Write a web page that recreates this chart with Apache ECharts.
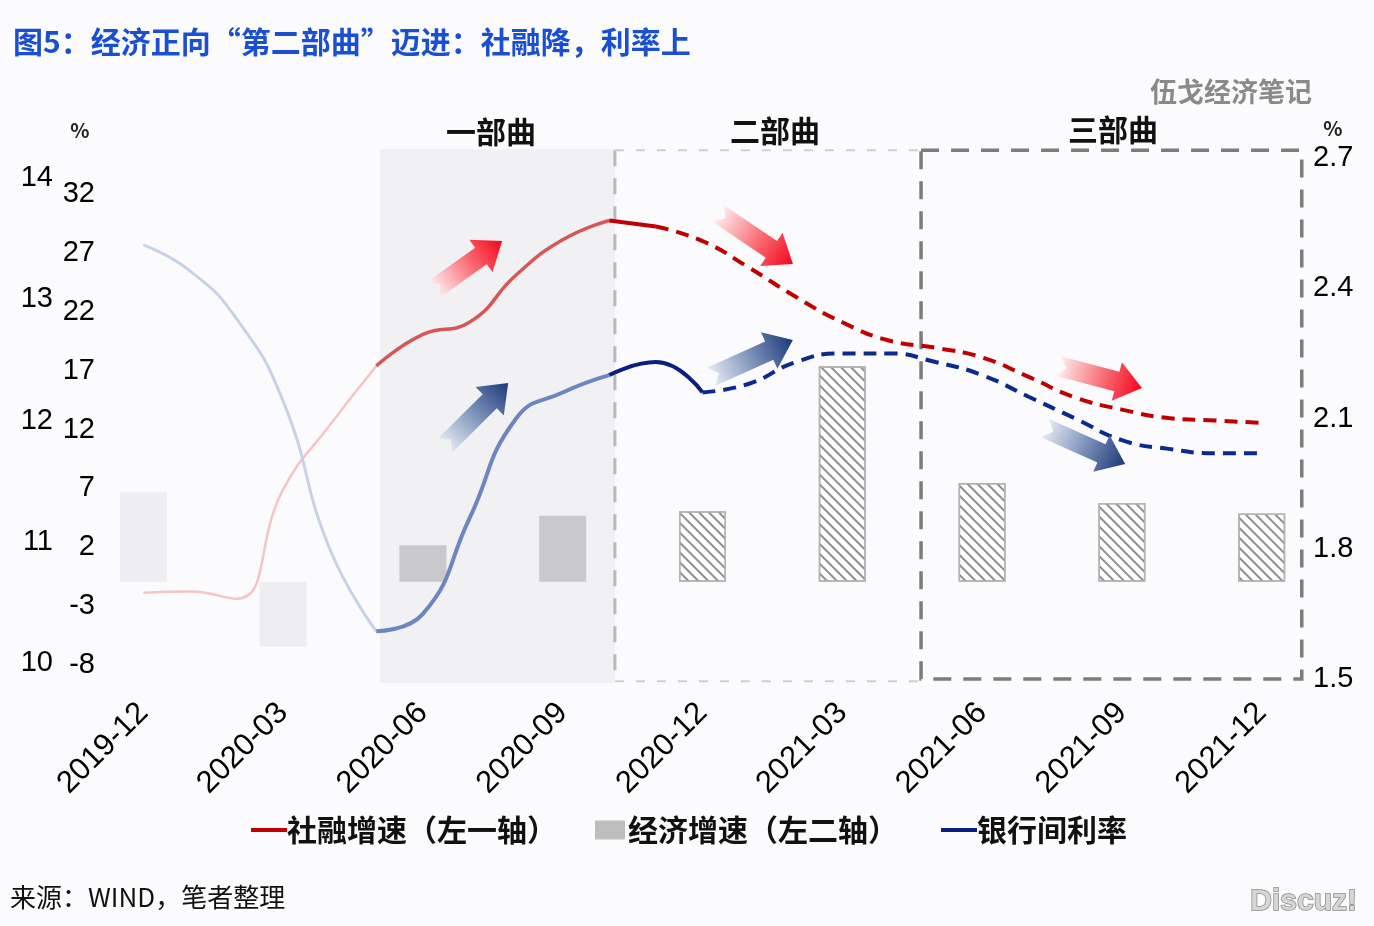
<!DOCTYPE html>
<html><head><meta charset="utf-8">
<script src="https://cdn.jsdelivr.net/npm/echarts@6/dist/echarts.min.js"></script>
<style>html,body{margin:0;padding:0;background:#fbfbfd}#c{width:1374px;height:926px}</style>
</head><body><div id="c"></div><script>
// ---------- data ----------
const months = ['2019-12','2020-01','2020-02','2020-03','2020-04','2020-05','2020-06','2020-07','2020-08','2020-09','2020-10','2020-11','2020-12',
                '2021-01','2021-02','2021-03','2021-04','2021-05','2021-06','2021-07','2021-08','2021-09','2021-10','2021-11','2021-12'];
// 社融增速 (左一轴, %)
const sfGrowth = [10.58,10.59,10.53,11.43,11.96,12.45,12.71,12.81,13.20,13.49,13.65,13.60,13.48,
                  13.26,13.02,12.81,12.66,12.60,12.52,12.36,12.19,12.09,12.02,12.00,11.98];
// 银行间利率 (右轴, %)
const rate = [2.50,2.44,2.33,2.14,1.80,1.61,1.65,1.87,2.10,2.16,2.20,2.23,2.16,
              2.18,2.23,2.25,2.25,2.23,2.20,2.15,2.10,2.05,2.03,2.02,2.02];
// 经济增速 (左二轴, %), quarterly
const quarters = ['2019-12','2020-03','2020-06','2020-09','2020-12','2021-03','2021-06','2021-09','2021-12'];
const gdpGrowth = [7.6,-5.5,3.1,5.6,6.0,18.3,8.4,6.7,5.8];
const axis1Ticks = [10,11,12,13,14];
const axis2Ticks = [-8,-3,2,7,12,17,22,27,32];
const axis3Ticks = [1.5,1.8,2.1,2.4,2.7];

// ---------- helpers ----------
const CJK = '"Noto Sans CJK SC","Noto Sans",sans-serif';
const NUM = '"Liberation Sans",Arial,sans-serif';
function seg(arr, a, b) { return arr.map((v, i) => (i >= a && i <= b) ? v : null); }
function barStyle(q) {
  if (q < 2) return { color: '#eeeef0' };
  if (q < 4) return { color: '#c9c8ca' };
  return { color: '#ffffff', borderColor: '#b3b3b3', borderWidth: 1.5,
    decal: { symbol: 'rect', symbolSize: 1, dashArrayX: [1, 0], dashArrayY: [2, 4.5], rotation: Math.PI / 4, color: '#8e8e8e' } };
}
const barData = months.map(m => {
  const q = quarters.indexOf(m);
  return q < 0 ? null : { value: gdpGrowth[q], itemStyle: barStyle(q) };
});

const chart = echarts.init(document.getElementById('c'));
const gridL = 120, gridR = 89;
const SF = '社融增速（左一轴）', GDP = '经济增速（左二轴）', RT = '银行间利率';

function lineSeries(name, xi, yi, data, color, width, dashed) {
  return { type: 'line', name, xAxisIndex: xi, yAxisIndex: yi, data, smooth: true, showSymbol: false,
    connectNulls: false, lineStyle: { color, width, type: dashed ? [13, 8] : 'solid', cap: 'butt' },
    itemStyle: { color }, emphasis: { disabled: true } };
}

const option = {
  backgroundColor: '#fbfbfd',
  animation: false,
  textStyle: { fontFamily: CJK },
  title: { text: '图5：经济正向“第二部曲”迈进：社融降，利率上', left: 8, top: 22,
    textStyle: { fontFamily: CJK, fontSize: 30, fontWeight: 'bold', color: '#1b4fd1' } },
  legend: [
    { left: 246, top: 810, itemWidth: 36, itemHeight: 4, itemGap: 0, icon: 'rect',
      data: [{ name: SF, itemStyle: { color: '#c00000', borderWidth: 0 } }],
      textStyle: { fontFamily: CJK, fontSize: 30, fontWeight: 'bold', color: '#111', padding: [0, 0, 0, -5] } },
    { left: 590, top: 810, itemWidth: 30, itemHeight: 19, itemGap: 0, icon: 'rect',
      data: [{ name: GDP, itemStyle: { color: '#bdbdbd', borderWidth: 0 } }],
      textStyle: { fontFamily: CJK, fontSize: 30, fontWeight: 'bold', color: '#111', padding: [0, 0, 0, -2] } },
    { left: 936, top: 810, itemWidth: 36, itemHeight: 4, itemGap: 0, icon: 'rect',
      data: [{ name: RT, itemStyle: { color: '#0b1f80', borderWidth: 0 } }],
      textStyle: { fontFamily: CJK, fontSize: 30, fontWeight: 'bold', color: '#111', padding: [0, 0, 0, -5] } }
  ],
  grid: [
    { left: gridL, right: gridR, top: 178, bottom: 926 - 663 },
    { left: gridL, right: gridR, top: 205, bottom: 926 - 676 },
    { left: gridL, right: gridR, top: 158, bottom: 926 - 679 }
  ],
  xAxis: [
    { type: 'category', gridIndex: 0, data: months, show: false },
    { type: 'category', gridIndex: 1, data: months, show: false },
    { type: 'category', gridIndex: 2, data: months, axisLine: { show: false }, axisTick: { show: false },
      axisLabel: { interval: 2, rotate: 45, margin: 29, fontSize: 31, color: '#000', fontFamily: NUM } },
    { type: 'value', gridIndex: 2, min: -0.5, max: 24.5, show: false }
  ],
  yAxis: [
    { type: 'value', gridIndex: 0, min: axis1Ticks[0], max: axis1Ticks[axis1Ticks.length - 1], interval: 1,
      axisLine: { show: false }, axisTick: { show: false }, splitLine: { show: false },
      axisLabel: { margin: 67, fontSize: 29, color: '#000', fontFamily: NUM } },
    { type: 'value', gridIndex: 1, min: axis2Ticks[0], max: axis2Ticks[axis2Ticks.length - 1], interval: 5,
      axisLine: { show: false }, axisTick: { show: false }, splitLine: { show: false },
      axisLabel: { margin: 25, fontSize: 29, color: '#000', fontFamily: NUM, verticalAlign: 'bottom', lineHeight: 22 } },
    { type: 'value', gridIndex: 2, position: 'right', min: axis3Ticks[0], max: axis3Ticks[axis3Ticks.length - 1], interval: 0.3,
      axisLine: { show: false }, axisTick: { show: false }, splitLine: { show: false },
      axisLabel: { margin: 28, fontSize: 29, color: '#000', fontFamily: NUM, formatter: v => v.toFixed(1) } }
  ],
  series: [
    { type: 'bar', name: GDP, xAxisIndex: 1, yAxisIndex: 1, data: barData, barWidth: 47,
      itemStyle: { color: '#bdbdbd' }, emphasis: { disabled: true } },
    lineSeries(SF, 0, 0, seg(sfGrowth, 0, 5), '#f5c4c4', 2.5, false),
    lineSeries(SF, 0, 0, seg(sfGrowth, 5, 10), '#d65757', 3.5, false),
    lineSeries(SF, 0, 0, seg(sfGrowth, 10, 11), '#c00000', 4, false),
    lineSeries(SF, 0, 0, seg(sfGrowth, 11, 24), '#c00000', 4, true),
    lineSeries(RT, 2, 2, seg(rate, 0, 5), '#c8d2e6', 3, false),
    lineSeries(RT, 2, 2, seg(rate, 5, 10), '#6c86bf', 4, false),
    lineSeries(RT, 2, 2, seg(rate, 10, 12), '#0b1f80', 4, false),
    lineSeries(RT, 2, 2, seg(rate, 12, 24), '#0a2a8c', 4, true)
  ]
};
chart.setOption(option);

// ---------- annotations anchored in data coords (month index, right-axis value) ----------
const shadeArea = { m0: 5.08, m1: 10.12, v0: 2.721, v1: 1.491 };
const box1 = { m0: 10.12, m1: 16.69, v0: 2.718, v1: 1.495 };
const box2 = { m0: 16.69, m1: 24.86, v0: 2.718, v1: 1.5 };
const arrows = [
  { from: [6.22, 2.396], to: [7.70, 2.509], kind: 'red' },
  { from: [12.33, 2.573], to: [13.94, 2.456], kind: 'red' },
  { from: [19.63, 2.221], to: [21.43, 2.170], kind: 'red' },
  { from: [6.47, 2.037], to: [7.83, 2.182], kind: 'blue' },
  { from: [12.18, 2.196], to: [13.94, 2.281], kind: 'blue' },
  { from: [19.35, 2.078], to: [21.07, 1.995], kind: 'blue' }
];
const px = m => chart.convertToPixel({ xAxisIndex: 3 }, m);
const py = v => chart.convertToPixel({ yAxisIndex: 2 }, v);

function arrowShape(a) {
  const T = [px(a.from[0]), py(a.from[1])], H = [px(a.to[0]), py(a.to[1])];
  const dx = H[0] - T[0], dy = H[1] - T[1], L = Math.hypot(dx, dy);
  const u = [dx / L, dy / L], n = [-u[1], u[0]];
  const w = 10, hw = 20, hl = 26, nd = 9;
  const P = (s, t) => [T[0] + u[0] * s + n[0] * t, T[1] + u[1] * s + n[1] * t];
  const pts = [P(nd, 0), P(0, w), P(L - hl, w), P(L - hl, hw), H, P(L - hl, -hw), P(L - hl, -w), P(0, -w)];
  const stops = a.kind === 'red'
    ? [{ offset: 0, color: '#fff0f0' }, { offset: 0.55, color: '#f86a72' }, { offset: 1, color: '#f5051b' }]
    : [{ offset: 0, color: '#e6ebf4' }, { offset: 0.55, color: '#7188b4' }, { offset: 1, color: '#1d3a78' }];
  return { type: 'polygon', z: 5, silent: true, shape: { points: pts },
    style: { fill: { type: 'linear', x: T[0], y: T[1], x2: H[0], y2: H[1], global: true, colorStops: stops } } };
}

const g = [];
g.push({ type: 'rect', z: -10, silent: true,
  shape: { x: px(shadeArea.m0), y: py(shadeArea.v0), width: px(shadeArea.m1) - px(shadeArea.m0), height: py(shadeArea.v1) - py(shadeArea.v0) },
  style: { fill: '#f1f1f3' } });
// box 1 (二部曲)
g.push({ type: 'line', z: 1, silent: true, shape: { x1: px(box1.m0), y1: py(box1.v0), x2: px(box1.m0), y2: py(box1.v1) },
  style: { stroke: '#b9b9b9', lineWidth: 3, lineDash: [16, 12] } });
g.push({ type: 'line', z: 1, silent: true, shape: { x1: px(box1.m0), y1: py(box1.v0), x2: px(box1.m1), y2: py(box1.v0) },
  style: { stroke: '#cfcfcf', lineWidth: 2, lineDash: [9, 12] } });
g.push({ type: 'line', z: 1, silent: true, shape: { x1: px(box1.m0), y1: py(box1.v1), x2: px(box1.m1), y2: py(box1.v1) },
  style: { stroke: '#cfcfcf', lineWidth: 2, lineDash: [9, 12] } });
// box 2 (三部曲)
g.push({ type: 'rect', z: 1, silent: true,
  shape: { x: px(box2.m0), y: py(box2.v0), width: px(box2.m1) - px(box2.m0), height: py(box2.v1) - py(box2.v0) },
  style: { fill: 'none', stroke: '#7c7c7c', lineWidth: 3.5, lineDash: [18, 12] } });
arrows.forEach(a => g.push(arrowShape(a)));
// texts
const txt = (x, y, text, font, fill, align, extra) => Object.assign({ type: 'text', x, y, silent: true, z: 6,
  style: { text, font, fill, align: align || 'center', verticalAlign: 'middle' } }, extra || {});
g.push(txt(491, 132, '一部曲', 'bold 30px ' + CJK, '#111'));
g.push(txt(775, 131, '二部曲', 'bold 30px ' + CJK, '#111'));
g.push(txt(1113, 130, '三部曲', 'bold 30px ' + CJK, '#111'));
g.push(txt(1231, 92, '伍戈经济笔记', 'bold 27px ' + CJK, '#8a8a8a'));
g.push(txt(80, 130, '%', 'bold 20px ' + CJK, '#222'));
g.push(txt(1333, 128, '%', 'bold 20px ' + CJK, '#222'));
g.push(txt(10, 897, '来源：WIND，笔者整理', '26px ' + CJK, '#111', 'left'));
const dz = txt(1357, 902, 'Discuz!', 'bold 30px ' + NUM, '#d6d6d6', 'right');
dz.style.stroke = '#8a8a8a'; dz.style.lineWidth = 1.5;
g.push(dz);
chart.setOption({ graphic: g });
</script></body></html>
